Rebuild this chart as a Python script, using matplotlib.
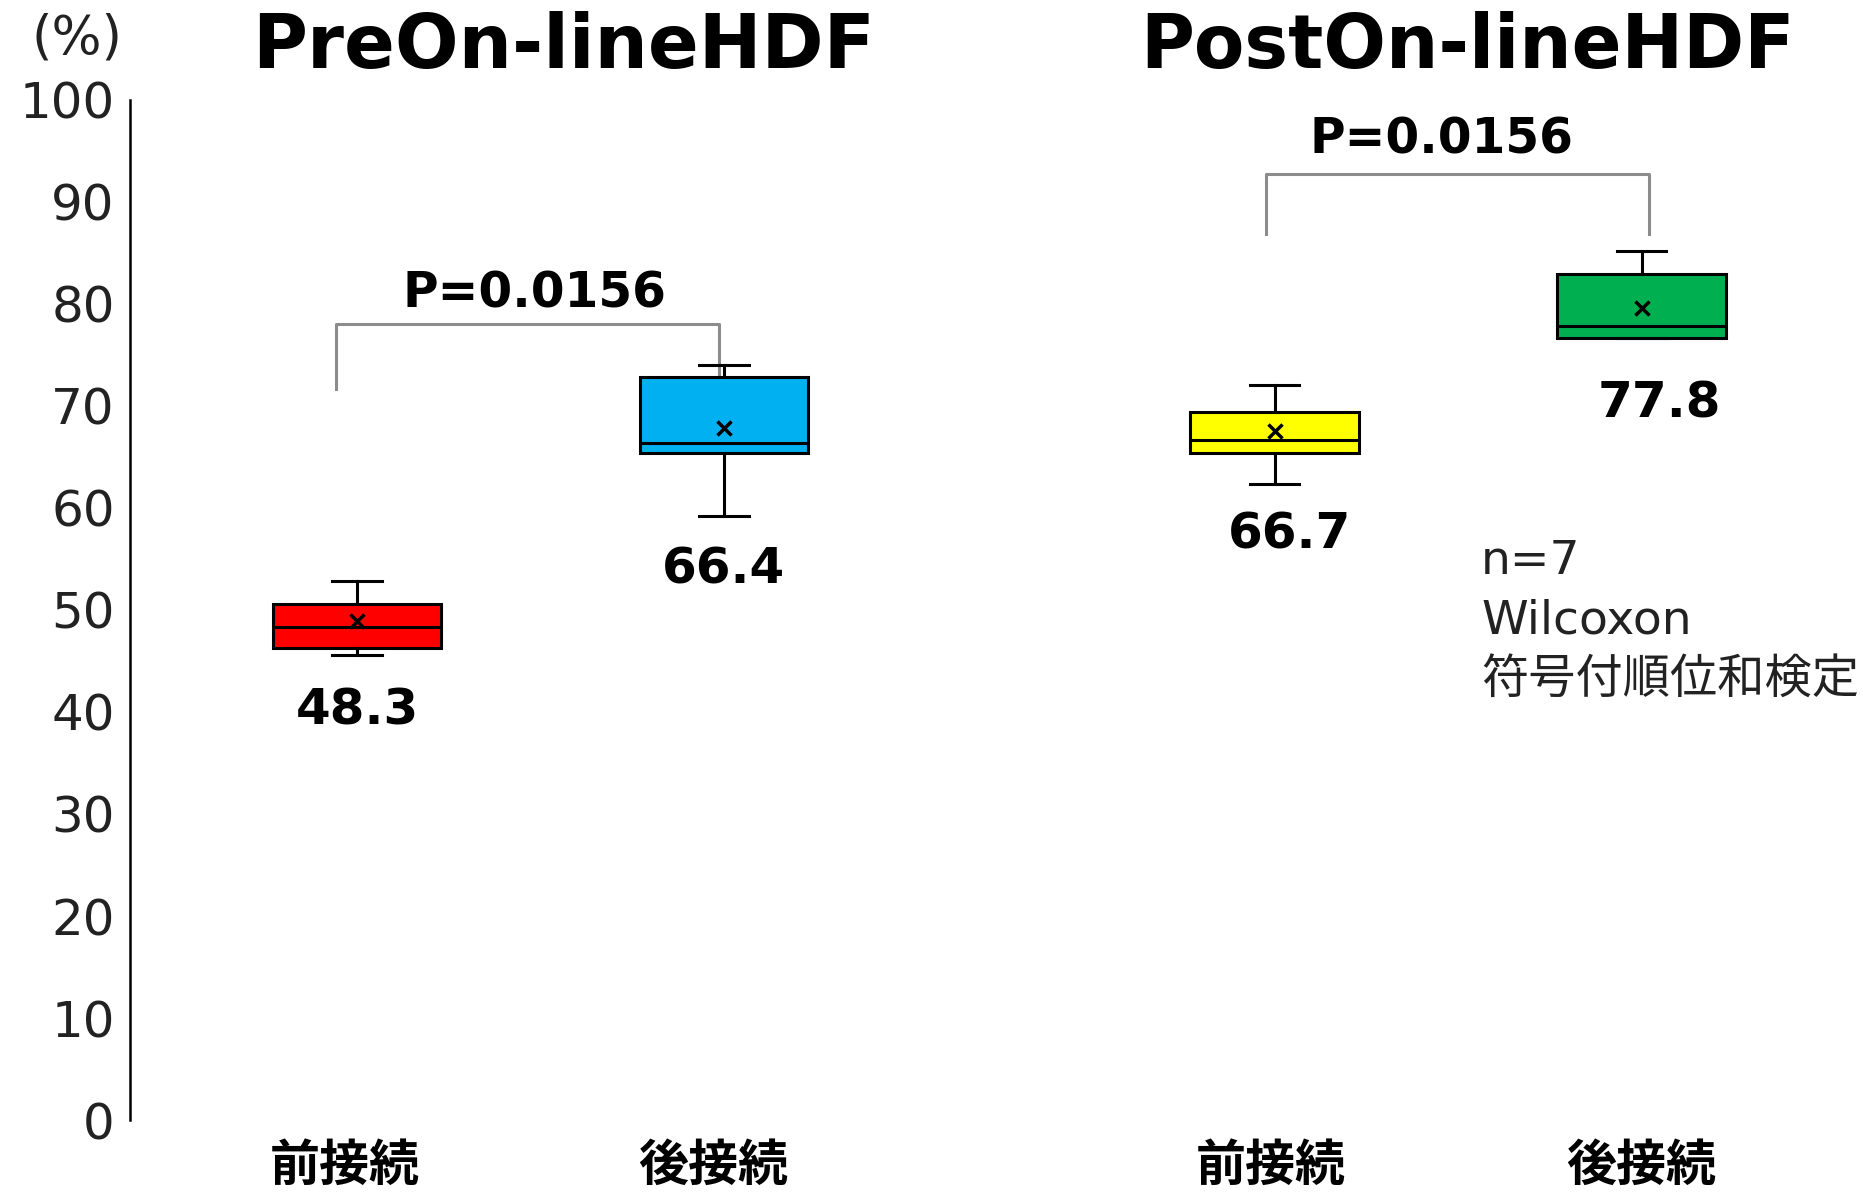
import matplotlib
matplotlib.use("Agg")
import matplotlib.pyplot as plt

plt.rcParams['font.family'] = ['DejaVu Sans', 'Noto Sans CJK JP']

# box statistics (%), one entry per box
groups = ["前接続", "後接続", "前接続", "後接続"]
whislo = [45.6, 59.2, 62.4, 76.7]
q1 = [46.3, 65.4, 65.4, 76.7]
med = [48.3, 66.4, 66.7, 77.8]
q3 = [50.6, 72.8, 69.4, 82.9]
whishi = [52.8, 74.0, 72.1, 85.2]
means = [48.9, 67.8, 67.5, 79.6]
colors = ["#FF0000", "#00B0F0", "#FFFF00", "#00B050"]

panel_titles = ["PreOn-lineHDF", "PostOn-lineHDF"]
p_values = ["P=0.0156", "P=0.0156"]
note_lines = ["n=7", "Wilcoxon", "符号付順位和検定"]

positions = [1, 2, 3.5, 4.5]

fig = plt.figure(figsize=(18.63, 11.93), dpi=100)
W, H = 1863, 1193
ax = fig.add_axes([130 / W, 1 - 1120 / H, 1 - 130 / W, 1020 / H])

stats = []
for i in range(len(groups)):
    stats.append(dict(whislo=whislo[i], q1=q1[i], med=med[i], q3=q3[i],
                      whishi=whishi[i], mean=means[i], fliers=[]))

bp = ax.bxp(stats, positions=positions, widths=0.458, capwidths=0.136,
            patch_artist=True, showmeans=True,
            boxprops=dict(edgecolor='black', linewidth=2.2),
            medianprops=dict(color='black', linewidth=2.2),
            whiskerprops=dict(color='black', linewidth=2.2),
            capprops=dict(color='black', linewidth=2.2),
            meanprops=dict(marker='x', markeredgecolor='black',
                           markersize=10, markeredgewidth=2.5))
for patch, c in zip(bp['boxes'], colors):
    patch.set_facecolor(c)

# value labels under each box
label_dx = [0.0, 0.0, 0.04, 0.05]
label_gap = [5.5, 5.2, 5.0, 6.5]
for i in range(len(groups)):
    ax.text(positions[i] + label_dx[i], whislo[i] - label_gap[i], f"{med[i]:.1f}",
            ha='center', va='center', fontsize=36, fontweight='bold')

# significance brackets: (box a, box b, top, leg bottom, leg shifts, text pos)
gray = '#8c8c8c'
brackets = [(0, 1, 78.0, 71.7, -0.057, -0.013, 1.485, 3.0),
            (2, 3, 92.7, 86.9, -0.023, 0.02, 3.956, 3.4)]
for (a, b, top, bottom, da, db, tx, tgap), pv in zip(brackets, p_values):
    xa = positions[a] + da
    xb = positions[b] + db
    ax.plot([xa, xa, xb, xb], [bottom, top, top, bottom],
            color=gray, lw=2.2, zorder=1, clip_on=False)
    ax.text(tx, top + tgap, pv, ha='center', va='center',
            fontsize=35, fontweight='bold')

# panel titles
title_x = [1.564, 4.025]
title_size = [54, 53]
for tx, t, fs in zip(title_x, panel_titles, title_size):
    ax.text(tx, 105.1, t, ha='center', va='center', fontsize=fs,
            fontweight='bold', clip_on=False)

# test notes
for k, line in enumerate(note_lines):
    ax.text(4.063, 54.8 - 5.85 * k, line, ha='left', va='center',
            fontsize=34, color='#222222')

ax.set_xlim(0.3815, 5.1035)
ax.set_ylim(0, 100)
ax.set_yticks(range(0, 101, 10))
ax.set_xticks([])
ax.tick_params(axis='y', length=0, pad=11, labelsize=36, labelcolor='#222222')

# group names below the axis
group_dx = [-0.033, -0.03, -0.01, 0.0]
for p, g, dx in zip(positions, groups, group_dx):
    ax.text(p + dx, -0.045, g, transform=ax.get_xaxis_transform(),
            ha='center', va='center', fontfamily='Noto Sans CJK JP',
            fontweight='bold', fontsize=36)

for s in ['top', 'right', 'bottom']:
    ax.spines[s].set_visible(False)
ax.spines['left'].set_linewidth(1.8)
ax.patch.set_alpha(0)

fig.text(77 / W, 1 - 39 / H, "(%)", ha='center', va='center', fontsize=38,
         color='#222222')

fig.savefig("out.png", dpi=100)
